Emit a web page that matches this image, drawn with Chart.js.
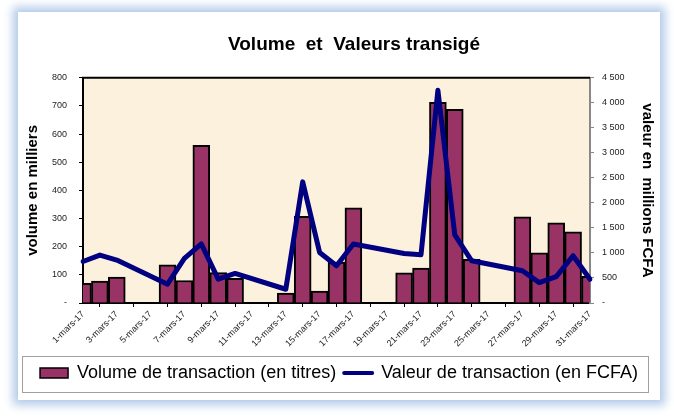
<!DOCTYPE html>
<html>
<head>
<meta charset="utf-8">
<script src="https://cdn.jsdelivr.net/npm/chart.js@4"></script>
<style>
  body { margin: 0; background: #fff; }
  #cadre {
    position: absolute; left: 18px; top: 12px; width: 642px; height: 388px;
    background: #fff; box-shadow: 0 0 9px 5px rgba(170, 195, 230, 0.9);
  }
  #grafica { position: absolute; left: 0; top: 0; }
</style>
</head>
<body>
<div id="cadre"></div>
<canvas id="grafica" width="674" height="418"></canvas>
<script>
var jours = [
    '1-mars-17', '2-mars-17', '3-mars-17', '4-mars-17', '5-mars-17', '6-mars-17', '7-mars-17',
    '8-mars-17', '9-mars-17', '10-mars-17', '11-mars-17', '12-mars-17', '13-mars-17', '14-mars-17',
    '15-mars-17', '16-mars-17', '17-mars-17', '18-mars-17', '19-mars-17', '20-mars-17', '21-mars-17',
    '22-mars-17', '23-mars-17', '24-mars-17', '25-mars-17', '26-mars-17', '27-mars-17', '28-mars-17',
    '29-mars-17', '30-mars-17', '31-mars-17'
];

// volume en milliers de titres (null = pas de séance)
var volume = [
    70, 78, 92, null, null, 136, 80,
    560, 108, 88, null, null, 35, 308,
    42, 145, 338, null, null, 107, 124,
    713, 688, 155, null, null, 306, 178,
    285, 253, 95
];

// valeur en millions FCFA
var valeur = [
    830, 958, 858, null, null, 375, 890,
    1180, 476, 590, null, null, 275, 2420,
    1010, 743, 1180, null, null, 990, 964,
    4250, 1360, 844, null, null, 643, 408,
    528, 944, 476
];

var police = "'Liberation Sans', Arial, sans-serif";

function milliers(v) {
    if (v === 0) return '-';
    return String(v).replace(/\B(?=(\d{3})+(?!\d))/g, ' ');
}

var cadrePlugin = {
    id: 'cadrePlugin',
    afterLayout: function (chart) {
        // titre un peu décalé vers la droite comme dans Excel
        chart.titleBlock.left += 30;
    },
    beforeDraw: function (chart) {
        var a = chart.chartArea, ctx = chart.ctx;
        ctx.save();
        ctx.fillStyle = '#fbf1dc';
        ctx.fillRect(a.left, a.top, a.right - a.left, a.bottom - a.top);
        ctx.restore();
    },
    afterDraw: function (chart) {
        var a = chart.chartArea, ctx = chart.ctx, lg = chart.legend;
        ctx.save();
        ctx.strokeStyle = '#000';
        ctx.lineWidth = 2;
        ctx.beginPath();
        ctx.moveTo(a.left - 1, a.top);
        ctx.lineTo(a.right, a.top);
        ctx.stroke();
        // cadre de la légende
        ctx.strokeStyle = '#a0a0a0';
        ctx.lineWidth = 1;
        ctx.strokeRect(22.5, lg.top + 0.5, 626, lg.height);
        ctx.restore();
    }
};

var ctx = document.getElementById('grafica').getContext('2d');
var grafica = new Chart(ctx, {
    data: {
        labels: jours,
        datasets: [{
            type: 'bar',
            label: 'Volume de transaction (en titres)',
            data: volume,
            yAxisID: 'y',
            backgroundColor: '#993366',
            borderColor: '#000',
            borderWidth: 2,
            categoryPercentage: 1,
            barPercentage: 1,
            order: 2
        }, {
            type: 'line',
            label: 'Valeur de transaction (en FCFA)',
            data: valeur,
            yAxisID: 'y2',
            borderColor: '#000080',
            backgroundColor: '#000080',
            borderWidth: 5,
            borderJoinStyle: 'round',
            borderCapStyle: 'round',
            pointRadius: 0,
            tension: 0,
            spanGaps: true,
            order: 1
        }]
    },
    options: {
        responsive: false,
        animation: false,
        devicePixelRatio: 1,
        layout: { padding: { top: 12, left: 18, right: 14, bottom: 26 } },
        plugins: {
            title: {
                display: true,
                text: 'Volume  et  Valeurs transigé',
                color: '#000',
                font: { family: police, size: 19, weight: 'bold' },
                padding: { top: 21, bottom: 22 }
            },
            legend: {
                position: 'bottom',
                labels: {
                    usePointStyle: true,
                    pointStyleWidth: 28,
                    boxHeight: 10,
                    padding: 8,
                    color: '#000',
                    font: { family: police, size: 18 },
                    generateLabels: function (chart) {
                        return chart.data.datasets.map(function (ds, i) {
                            return {
                                text: ds.label,
                                datasetIndex: i,
                                fillStyle: ds.backgroundColor,
                                strokeStyle: i === 0 ? '#000' : ds.borderColor,
                                lineWidth: i === 0 ? 1.5 : 4,
                                lineCap: 'round',
                                pointStyle: i === 0 ? 'rect' : 'line',
                                fontColor: '#000'
                            };
                        });
                    }
                }
            },
            tooltip: { enabled: false }
        },
        scales: {
            x: {
                offset: false,
                afterBuildTicks: function (scale) {
                    // une étiquette sur deux
                    scale.ticks = scale.ticks.filter(function (t, i) { return i % 2 === 0; });
                },
                afterFit: function (scale) { scale.height = 53; },
                grid: { display: true, drawOnChartArea: false, drawTicks: true, tickLength: 4, color: '#000' },
                border: { display: true, color: '#000', width: 2 },
                ticks: {
                    autoSkip: false,
                    minRotation: 45,
                    maxRotation: 45,
                    padding: 2,
                    color: '#222',
                    font: { family: police, size: 9 }
                }
            },
            y: {
                position: 'left',
                min: 0,
                max: 800,
                afterFit: function (scale) { scale.width = 65; },
                grid: { display: true, drawOnChartArea: false, drawTicks: true, tickLength: 4, color: '#000' },
                border: { display: true, color: '#000', width: 2 },
                ticks: {
                    stepSize: 100,
                    padding: 12,
                    color: '#222',
                    font: { family: police, size: 9 },
                    callback: function (v) { return milliers(v); }
                },
                title: {
                    display: true,
                    text: 'volume en milliers',
                    color: '#000',
                    font: { family: police, size: 15, weight: 'bold' },
                    padding: { top: 6, bottom: 0 }
                }
            },
            y2: {
                position: 'right',
                min: 0,
                max: 4500,
                afterFit: function (scale) { scale.width = 70; },
                grid: { display: true, drawOnChartArea: false, drawTicks: true, tickLength: 4, color: '#888' },
                border: { display: true, color: '#888', width: 2 },
                ticks: {
                    stepSize: 500,
                    padding: 8,
                    color: '#222',
                    font: { family: police, size: 9 },
                    callback: function (v) { return milliers(v); }
                },
                title: {
                    display: true,
                    text: 'valeur en  millions FCFA',
                    color: '#000',
                    font: { family: police, size: 15, weight: 'bold' },
                    padding: { top: 4, bottom: 0 }
                }
            }
        }
    },
    plugins: [cadrePlugin]
});
</script>
</body>
</html>
